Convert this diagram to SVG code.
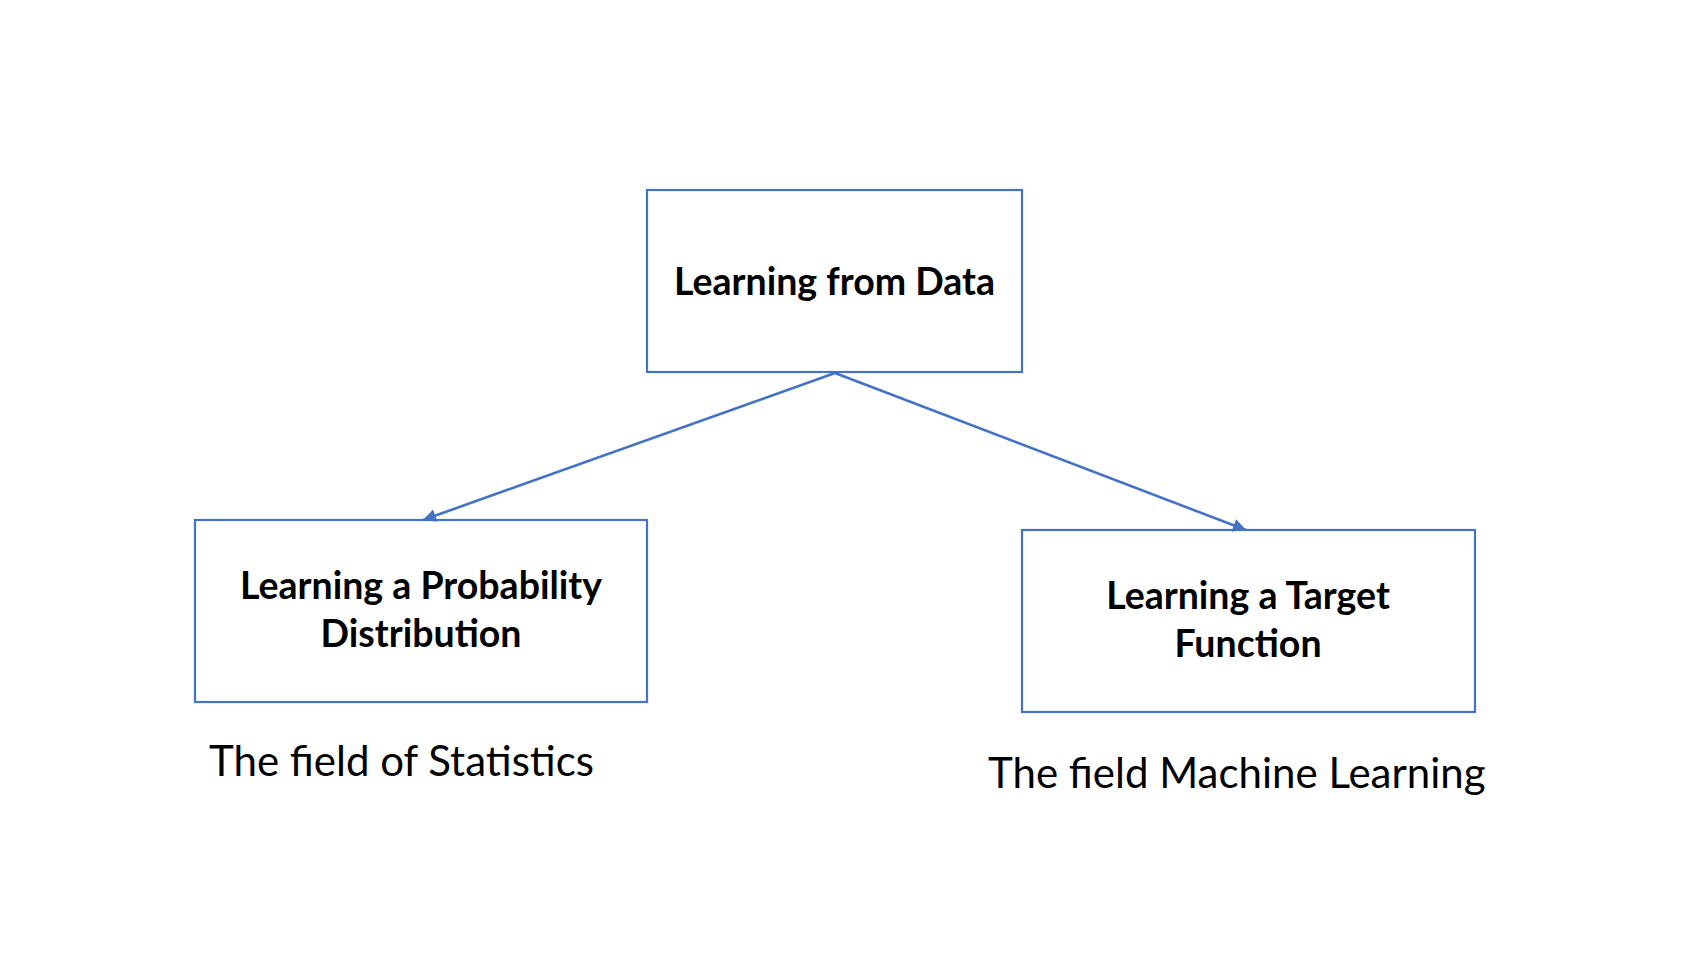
<svg xmlns="http://www.w3.org/2000/svg" width="1706" height="954" viewBox="0 0 1706 954">
<defs>
<style>
.box{fill:#ffffff;stroke:#4472C4;stroke-width:2.2}
.b{font-family:Lato,"Open Sans","Liberation Sans",sans-serif;font-weight:700;font-size:37.5px;fill:#000;text-anchor:middle}
.r{font-family:Lato,"Open Sans","Liberation Sans",sans-serif;font-weight:400;font-size:42px;fill:#000}
.conn{stroke:#4472C4;stroke-width:2.6;fill:none}
</style>
<marker id="ah" viewBox="0 0 10 10" refX="10" refY="5" markerWidth="6" markerHeight="5" markerUnits="strokeWidth" orient="auto">
<path d="M0,0 L10,5 L0,10 z" fill="#4472C4"/>
</marker>
</defs>
<rect width="1706" height="954" fill="#ffffff"/>
<g id="node-top">
<rect class="box" x="647" y="190" width="375" height="182"/>
<text class="b" x="834.5" y="295">Learning from Data</text>
</g>
<g id="node-left">
<rect class="box" x="195" y="520" width="452" height="182"/>
<text class="b" x="421" y="599">Learning a Probability</text>
<text class="b" x="421" y="647">Distribution</text>
</g>
<g id="node-right">
<rect class="box" x="1022" y="530" width="453" height="182"/>
<text class="b" x="1248" y="609">Learning a Target</text>
<text class="b" x="1248" y="657">Function</text>
</g>
<g id="label-stats">
<text class="r" x="209" y="776">The field of Statistics</text>
</g>
<g id="label-ml">
<text class="r" x="988" y="788">The field Machine Learning</text>
</g>
<g id="connectors">
<line class="conn" x1="835" y1="373" x2="423" y2="520" marker-end="url(#ah)"/>
<line class="conn" x1="835" y1="373" x2="1246" y2="530" marker-end="url(#ah)"/>
</g>
</svg>
